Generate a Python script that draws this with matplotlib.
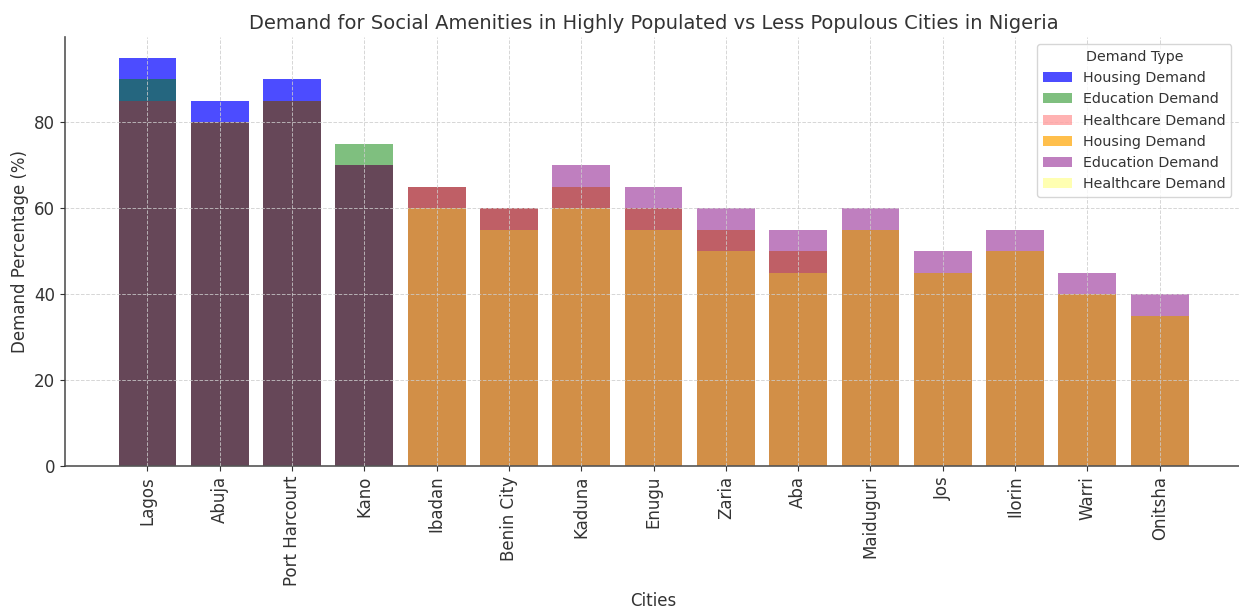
import matplotlib.pyplot as plt

# Data
high_cities = ["Lagos", "Abuja", "Port Harcourt", "Kano"]
high_housing = [95, 85, 90, 70]
high_education = [90, 80, 85, 75]
high_healthcare = [85, 80, 85, 70]

low_cities = ["Ibadan", "Benin City", "Kaduna", "Enugu", "Zaria", "Aba",
              "Maiduguri", "Jos", "Ilorin", "Warri", "Onitsha"]
low_housing = [65, 60, 65, 60, 55, 50, 55, 45, 50, 40, 35]
low_education = [65, 60, 70, 65, 60, 55, 60, 50, 55, 45, 40]
low_healthcare = [60, 55, 60, 55, 50, 45, 55, 45, 50, 40, 35]

plt.rcParams["font.family"] = "DejaVu Sans"
fig = plt.figure(figsize=(12.39, 6.10), dpi=100)
ax = fig.add_axes([0.0525, 0.236, 0.95, 0.703])

ax.bar(high_cities, high_housing, color="blue", alpha=0.7, label="Housing Demand")
ax.bar(high_cities, high_education, color="green", alpha=0.5, label="Education Demand")
ax.bar(high_cities, high_healthcare, color="red", alpha=0.3, label="Healthcare Demand")
ax.bar(low_cities, low_housing, color="orange", alpha=0.7, label="Housing Demand")
ax.bar(low_cities, low_education, color="purple", alpha=0.5, label="Education Demand")
ax.bar(low_cities, low_healthcare, color="yellow", alpha=0.3, label="Healthcare Demand")

ax.set_title("Demand for Social Amenities in Highly Populated vs Less Populous Cities in Nigeria",
             fontsize=14, color="#333333")
ax.set_xlabel("Cities", fontsize=12, color="#333333")
ax.set_ylabel("Demand Percentage (%)", fontsize=12, color="#333333")
ax.tick_params(axis="x", rotation=90, labelsize=12, colors="#333333")
ax.tick_params(axis="y", labelsize=12, colors="#333333")
ax.set_yticks([0, 20, 40, 60, 80])
ax.grid(True, linestyle="--", color="#cccccc", linewidth=0.7, alpha=0.8)
ax.set_axisbelow(False)
for s in ["top", "right"]:
    ax.spines[s].set_visible(False)
for s in ["left", "bottom"]:
    ax.spines[s].set_color("#555555")
    ax.spines[s].set_linewidth(1.2)

leg = ax.legend(title="Demand Type", loc="upper right", fontsize=10.3, title_fontsize=10.3,
                bbox_to_anchor=(0.997, 1.0))
for t in leg.get_texts():
    t.set_color("#333333")
leg.get_title().set_color("#333333")

fig.savefig("out.png", dpi=100)
